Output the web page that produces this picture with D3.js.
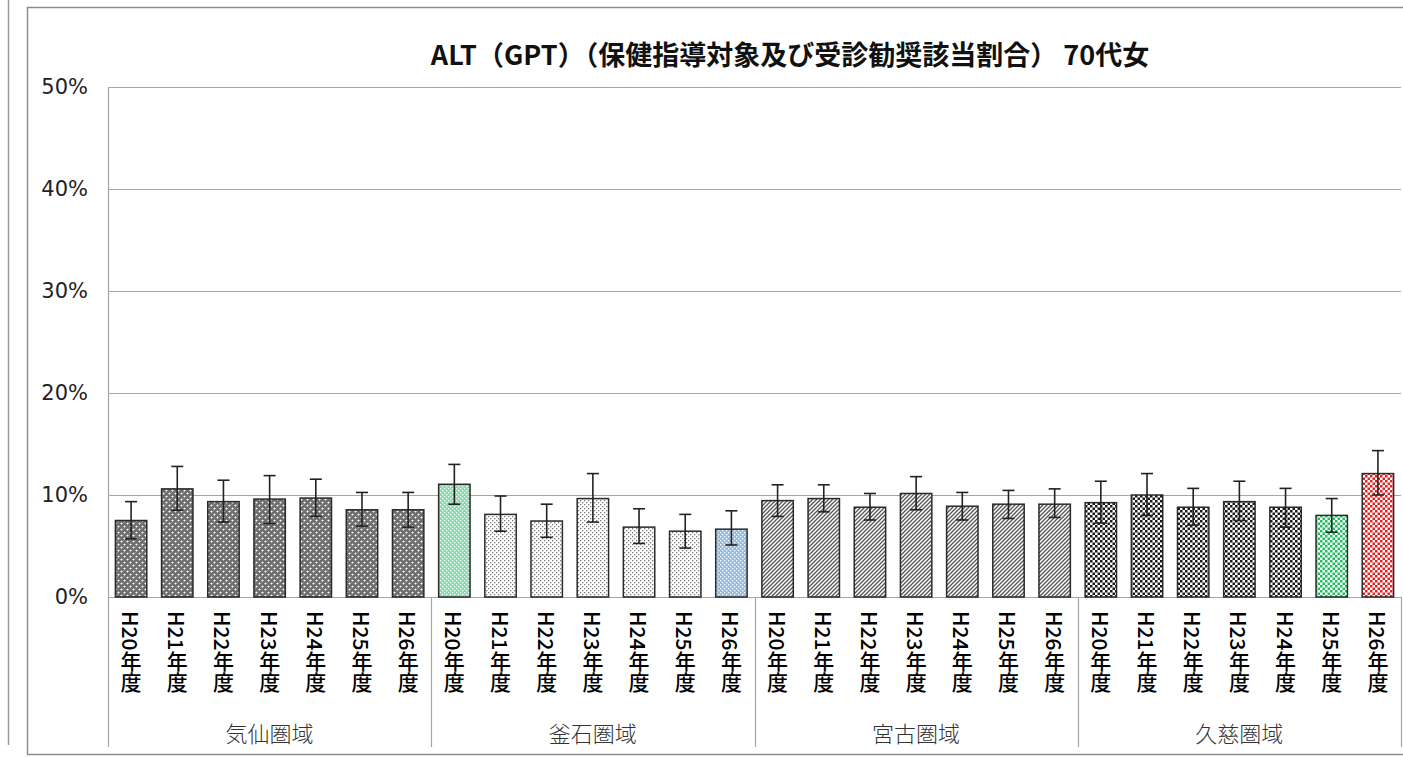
<!DOCTYPE html>
<html>
<head>
<meta charset="utf-8">
<script src="https://cdn.jsdelivr.net/npm/d3@7"></script>
<style>
  body { margin: 0; background: #fff; }
  svg { display: block; }
</style>
</head>
<body>
<div id="chart"></div>
<script>
const title = 'ALT（GPT）（保健指導対象及び受診勧奨該当割合） 70代女'
const groups = ['気仙圏域', '釜石圏域', '宮古圏域', '久慈圏域']
const years = ['H20年度', 'H21年度', 'H22年度', 'H23年度', 'H24年度', 'H25年度', 'H26年度']
const yTicks = [0, 10, 20, 30, 40, 50]

// percent, one row per area
const rates = [
  [7.5, 10.6, 9.35, 9.6, 9.7, 8.55, 8.55],
  [11.05, 8.1, 7.45, 9.65, 6.85, 6.45, 6.65],
  [9.45, 9.65, 8.8, 10.15, 8.9, 9.1, 9.1],
  [9.25, 10.0, 8.8, 9.35, 8.8, 8.0, 12.1]
]
const upper = [
  [9.35, 12.8, 11.45, 11.9, 11.55, 10.25, 10.25],
  [13.0, 9.9, 9.1, 12.1, 8.65, 8.1, 8.45],
  [11.0, 11.0, 10.15, 11.8, 10.25, 10.45, 10.6],
  [11.35, 12.1, 10.65, 11.35, 10.65, 9.65, 14.35]
]
const lower = [
  [5.7, 8.5, 7.35, 7.2, 7.9, 6.95, 6.85],
  [9.1, 6.45, 5.85, 7.35, 5.25, 4.8, 5.1],
  [7.9, 8.35, 7.55, 8.55, 7.55, 7.7, 7.8],
  [7.25, 8.0, 7.05, 7.5, 6.85, 6.35, 10.0]
]

// bars drawn in a colour instead of the area's grey pattern
const highlights = {
  '釜石圏域|H20年度': 'green',
  '釜石圏域|H26年度': 'blue',
  '久慈圏域|H25年度': 'green',
  '久慈圏域|H26年度': 'red'
}

const W = 1403
const H = 757
const plot = { left: 108, right: 1401, top: 87, bottom: 597 }

const datapoints = []
groups.forEach((g, gi) => {
  years.forEach((yr, yi) => {
    datapoints.push({
      key: g + '|' + yr,
      group: g,
      year: yr,
      gi: gi,
      value: rates[gi][yi],
      hi: upper[gi][yi],
      lo: lower[gi][yi]
    })
  })
})

const svg = d3
  .select('#chart')
  .append('svg')
  .attr('width', W)
  .attr('height', H)

// ---- patterns ----
const defs = svg.append('defs')

function dotsDark(id, bg, dot) {
  const p = defs.append('pattern').attr('id', id)
    .attr('patternUnits', 'userSpaceOnUse').attr('width', 6).attr('height', 6)
  p.append('rect').attr('width', 6).attr('height', 6).attr('fill', bg)
  p.append('rect').attr('x', 1).attr('y', 0).attr('width', 1).attr('height', 1).attr('fill', '#333')
  p.append('rect').attr('x', 4).attr('y', 3).attr('width', 1).attr('height', 1).attr('fill', '#333')
  p.append('rect').attr('x', 3).attr('y', 0).attr('width', 1).attr('height', 1).attr('fill', '#999')
  // white plus dots
  ;[[1, 1], [4, 4]].forEach(([x, y]) => {
    p.append('rect').attr('x', x - 0.5).attr('y', y).attr('width', 2).attr('height', 1).attr('fill', dot)
    p.append('rect').attr('x', x).attr('y', y - 0.5).attr('width', 1).attr('height', 2).attr('fill', dot)
  })
}
function dotsLight(id, bg, dot) {
  const p = defs.append('pattern').attr('id', id)
    .attr('patternUnits', 'userSpaceOnUse').attr('width', 4).attr('height', 4)
  p.append('rect').attr('width', 4).attr('height', 4).attr('fill', bg)
  p.append('rect').attr('x', 0).attr('y', 0).attr('width', 1.3).attr('height', 1.3).attr('fill', dot)
  p.append('rect').attr('x', 2).attr('y', 2).attr('width', 1.3).attr('height', 1.3).attr('fill', dot)
}
function hatch(id, bg, line) {
  const p = defs.append('pattern').attr('id', id)
    .attr('patternUnits', 'userSpaceOnUse').attr('width', 4).attr('height', 4)
  p.append('rect').attr('width', 4).attr('height', 4).attr('fill', bg)
  p.append('path').attr('d', 'M-1,1 L1,-1 M0,4 L4,0 M3,5 L5,3')
    .attr('stroke', line).attr('stroke-width', 1.3)
}
function checker(id, bg, sq) {
  const p = defs.append('pattern').attr('id', id)
    .attr('patternUnits', 'userSpaceOnUse').attr('width', 5).attr('height', 5)
  p.append('rect').attr('width', 5).attr('height', 5).attr('fill', bg)
  p.append('rect').attr('x', 0).attr('y', 0).attr('width', 2.5).attr('height', 2.5).attr('fill', sq)
  p.append('rect').attr('x', 2.5).attr('y', 2.5).attr('width', 2.5).attr('height', 2.5).attr('fill', sq)
}

dotsDark('p0', '#6e6e6e', '#ffffff')
dotsLight('p1', '#ffffff', '#7a7a7a')
hatch('p2', '#ffffff', '#555555')
checker('p3', '#ffffff', '#1a1a1a')
dotsLight('p1-green', '#7ee0a8', '#ffffff')
dotsLight('p1-blue', '#8dbde8', '#ffffff')
checker('p3-green', '#ffffff', '#1fbf5f')
checker('p3-red', '#ffffff', '#e02424')

function fillFor(d) {
  const h = highlights[d.key]
  return h ? 'url(#p' + d.gi + '-' + h + ')' : 'url(#p' + d.gi + ')'
}

// ---- outer frame ----
svg.append('line').attr('x1', 8.5).attr('x2', 8.5).attr('y1', 0).attr('y2', 745)
  .attr('stroke', '#999').attr('stroke-width', 1.5)
svg.append('rect').attr('x', 27.5).attr('y', 7.5).attr('width', W).attr('height', 747)
  .attr('fill', 'none').attr('stroke', '#8c8c8c').attr('stroke-width', 1.5)

// ---- scales ----
const x = d3
  .scaleBand()
  .domain(datapoints.map(d => d.key))
  .range([plot.left, plot.right])
  .paddingInner(0.32)
  .paddingOuter(0.16)

const y = d3
  .scaleLinear()
  .domain([0, 50])
  .range([plot.bottom, plot.top])

// gridlines
svg.append('g')
  .selectAll('line')
  .data(yTicks)
  .enter()
  .append('line')
  .attr('x1', plot.left)
  .attr('x2', plot.right)
  .attr('y1', d => Math.round(y(d)) + 0.5)
  .attr('y2', d => Math.round(y(d)) + 0.5)
  .attr('stroke', '#a6a6a6')
  .attr('stroke-width', 1.2)

// y axis
const yAxis = svg.append('g')
  .attr('transform', 'translate(' + plot.left + ',0)')
  .call(d3.axisLeft(y).tickValues(yTicks).tickSize(0).tickPadding(20).tickFormat(d => d + '%'))
yAxis.select('.domain').attr('stroke', '#a6a6a6').attr('stroke-width', 1.2)
yAxis.selectAll('text')
  .attr('font-family', 'DejaVu Sans, sans-serif')
  .attr('font-size', 21)
  .attr('fill', '#222')

// title
svg.append('text')
  .attr('x', 790)
  .attr('y', 53)
  .attr('text-anchor', 'middle')
  .attr('dominant-baseline', 'central')
  .attr('font-family', 'Noto Sans CJK JP, sans-serif')
  .attr('font-weight', 'bold')
  .attr('font-size', 27)
  .attr('fill', '#111')
  .text(title)

// bars
svg.append('g')
  .selectAll('rect')
  .data(datapoints)
  .enter()
  .append('rect')
  .attr('x', d => x(d.key))
  .attr('y', d => y(d.value))
  .attr('width', x.bandwidth())
  .attr('height', d => y(0) - y(d.value))
  .attr('fill', d => fillFor(d))
  .attr('stroke', '#2a2a2a')
  .attr('stroke-width', 1.5)

// error bars
const err = svg.append('g').attr('stroke', '#222').attr('stroke-width', 1.6)
datapoints.forEach(d => {
  const cx = x(d.key) + x.bandwidth() / 2
  err.append('line').attr('x1', cx).attr('x2', cx).attr('y1', y(d.hi)).attr('y2', y(d.lo))
  err.append('line').attr('x1', cx - 6).attr('x2', cx + 6).attr('y1', y(d.hi)).attr('y2', y(d.hi))
  err.append('line').attr('x1', cx - 6).attr('x2', cx + 6).attr('y1', y(d.lo)).attr('y2', y(d.lo))
})

// category labels (vertical)
svg.append('g')
  .selectAll('text')
  .data(datapoints)
  .enter()
  .append('text')
  .attr('x', d => x(d.key) + x.bandwidth() / 2)
  .attr('y', 611)
  .style('writing-mode', 'vertical-rl')
  .attr('font-family', 'Noto Sans CJK JP, sans-serif')
  .attr('font-weight', 500)
  .attr('font-size', 21)
  .attr('fill', '#000')
  .text(d => d.year)

// group boxes
const groupW = (plot.right - plot.left) / groups.length
const gx = i => plot.left + i * groupW
svg.append('g')
  .selectAll('line')
  .data(d3.range(groups.length + 1))
  .enter()
  .append('line')
  .attr('x1', i => Math.round(gx(i)) + 0.5)
  .attr('x2', i => Math.round(gx(i)) + 0.5)
  .attr('y1', plot.bottom)
  .attr('y2', 747)
  .attr('stroke', '#a6a6a6')
  .attr('stroke-width', 1.2)

svg.append('g')
  .selectAll('text')
  .data(groups)
  .enter()
  .append('text')
  .attr('x', (g, i) => gx(i) + groupW / 2)
  .attr('y', 732)
  .attr('text-anchor', 'middle')
  .attr('dominant-baseline', 'central')
  .attr('font-family', 'Noto Sans CJK JP, sans-serif')
  .attr('font-weight', 300)
  .attr('font-size', 22)
  .attr('fill', '#333')
  .text(d => d)
</script>
</body>
</html>
